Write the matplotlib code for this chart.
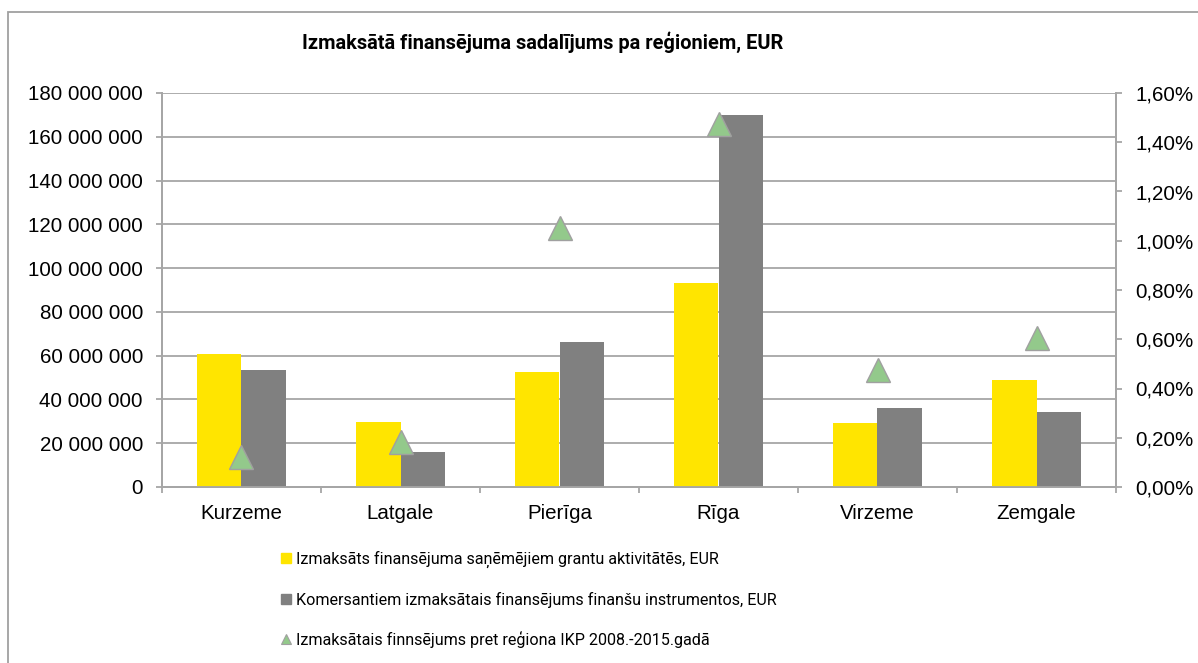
import matplotlib
matplotlib.use("Agg")
import matplotlib.pyplot as plt
from matplotlib.patches import Rectangle
from matplotlib.lines import Line2D
from matplotlib.ticker import FuncFormatter, FixedLocator
from matplotlib import font_manager as fm
import numpy as np

plt.rcParams['font.family'] = ['Liberation Sans', 'DejaVu Sans']

categories = ["Kurzeme", "Latgale", "Pierīga", "Rīga", "Virzeme", "Zemgale"]
grants = [60.8e6, 29.5e6, 52.5e6, 93.2e6, 29.2e6, 49.0e6]
fin_instruments = [53.4e6, 16.0e6, 66.2e6, 169.8e6, 36.1e6, 34.3e6]
gdp_share = [0.122, 0.183, 1.05, 1.476, 0.475, 0.607]  # percent

title = "Izmaksātā finansējuma sadalījums pa reģioniem, EUR"
labels = ["Izmaksāts finansējuma saņēmējiem grantu aktivitātēs, EUR",
          "Komersantiem izmaksātais finansējums finanšu instrumentos, EUR",
          "Izmaksātais finnsējums pret reģiona IKP 2008.-2015.gadā"]

YELLOW = "#FFE500"
GREY = "#808080"
GREEN = "#93C98B"
GRID = "#A6A6A6"
TICKFONT = fm.FontProperties(family=['Liberation Sans', 'DejaVu Sans'], size=14.8)

W, H = 1198, 663
fig = plt.figure(figsize=(W / 100, H / 100), dpi=100)

# outer chart border
fig.patches.append(Rectangle((8 / W, -0.1), 1.2, 1 - 12 / H + 0.1, transform=fig.transFigure,
                             fill=False, edgecolor="#A0A0A0", lw=1.3))

left, right, top, bottom = 162, 1116, 93, 487
ax = fig.add_axes([left / W, 1 - bottom / H, (right - left) / W, (bottom - top) / H])
ax2 = ax.twinx()

x = np.arange(len(categories))
bw = 0.283
ax.bar(x - bw / 2, grants, bw, color=YELLOW, zorder=3)
ax.bar(x + bw / 2, fin_instruments, bw, color=GREY, zorder=3)

ax.set_xlim(-0.5, len(categories) - 0.5)
ax.set_ylim(0, 180e6)
ax.yaxis.set_major_locator(FixedLocator(np.arange(0, 180e6 + 1, 20e6)))
ax.yaxis.set_major_formatter(FuncFormatter(lambda v, p: f"{int(round(v)):,}".replace(",", " ")))
ax.grid(axis="y", color=GRID, lw=1.3, zorder=0)
ax.set_axisbelow(True)

ax.set_xticks(x)
ax.set_xticklabels(categories)
ax.set_xticks(np.arange(-0.5, len(categories), 1.0), minor=True)
ax.tick_params(axis="x", which="major", length=0, pad=12.5, labelsize=14.8)
ax.tick_params(axis="x", which="minor", length=4.3, width=1.3, color=GRID, direction="out")
ax.tick_params(axis="y", length=4.3, width=1.3, color=GRID, labelsize=14.8, pad=9.4)

ax2.plot(x, gdp_share, linestyle="none", marker="^", markersize=17,
         markerfacecolor=GREEN, markeredgecolor="#A0A0A0", markeredgewidth=1.0, zorder=5)
ax2.set_ylim(0, 1.6)
ax2.yaxis.set_major_locator(FixedLocator(np.arange(0, 1.61, 0.2)))
ax2.yaxis.set_major_formatter(FuncFormatter(lambda v, p: f"{v:.2f}%".replace(".", ",")))
ax2.tick_params(axis="y", length=4.3, width=1.3, color=GRID, labelsize=14.8, pad=9.4)

for a in (ax, ax2):
    a.spines["top"].set_visible(False)
    for s in ("left", "right", "bottom"):
        a.spines[s].set_color(GRID)
        a.spines[s].set_linewidth(1.3)

tfam = ['Roboto', 'Liberation Sans', 'DejaVu Sans']
renderer = fig.canvas.get_renderer()

def fit_size(text, target_px, weight, base=14.0):
    t = fig.text(0, 0, text, fontproperties=fm.FontProperties(family=tfam, size=base, weight=weight))
    w = t.get_window_extent(renderer).width
    t.remove()
    return base * target_px / w

tsize = fit_size(title, 484, "bold")
lsize = fit_size(labels[1], 485, "normal")

fig.text(0.5 * (300 + 785) / W, 1 - 42 / H, title, ha="center", va="center",
         fontproperties=fm.FontProperties(family=tfam, size=tsize, weight="bold"))

handles = [
    Line2D([], [], linestyle="none", marker="s", markersize=7, markerfacecolor=YELLOW, markeredgecolor=YELLOW),
    Line2D([], [], linestyle="none", marker="s", markersize=7, markerfacecolor=GREY, markeredgecolor=GREY),
    Line2D([], [], linestyle="none", marker="^", markersize=7.5, markerfacecolor=GREEN, markeredgecolor="#A0A0A0",
           markeredgewidth=0.8),
]
leg = fig.legend(handles, labels, loc="upper left", bbox_to_anchor=(282 / W, 1 - 551 / H),
                 frameon=False, prop=fm.FontProperties(family=tfam, size=lsize),
                 handlelength=0.55, handletextpad=0.3,
                 labelspacing=1.45, borderaxespad=0, borderpad=0)

# make sure axis tick labels use the Arial-metric family
for lbl in ax.get_xticklabels() + ax.get_yticklabels() + ax2.get_yticklabels():
    lbl.set_fontproperties(TICKFONT)

fig.savefig("out.png", dpi=100)
